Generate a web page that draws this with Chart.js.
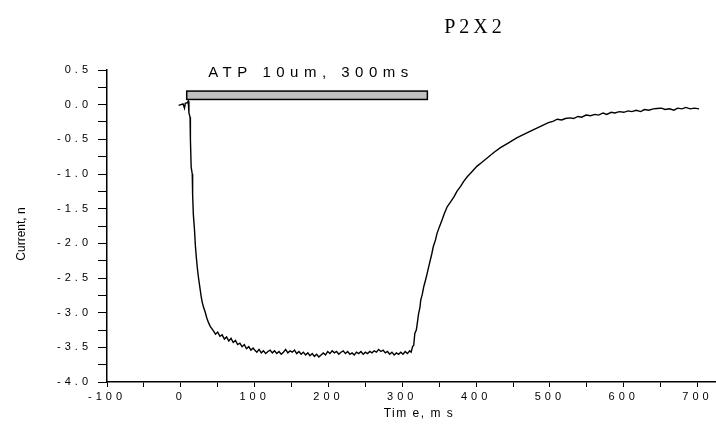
<!DOCTYPE html>
<html>
<head>
<meta charset="utf-8">
<script src="https://cdn.jsdelivr.net/npm/chart.js@4.4.0/dist/chart.umd.min.js"></script>
<style>
  html, body { margin: 0; padding: 0; background: #fff; }
  #wrap { width: 716px; height: 430px; }
</style>
</head>
<body>
<div id="wrap"><canvas id="chart" width="716" height="430"></canvas></div>
<script>
// Trace: time (ms) and current
const times = [
  -3, 0, 3, 5, 6, 9, 10, 11, 12.5, 13, 14, 15.5, 16, 17, 18.5, 19.7, 21, 22.4, 24, 26,
  27.5, 29, 31, 33, 35, 37.4, 40, 44, 47, 50, 53, 56, 59, 62, 65, 68, 71, 74, 77, 80,
  83, 86, 89, 92, 95, 98, 100, 103, 106, 109, 112, 115, 118, 121, 124, 127, 130, 133, 136, 139,
  142, 145, 148, 151, 154, 157, 160, 163, 166, 169, 172, 175, 178, 181, 184, 187, 190, 193, 196, 199,
  202, 205, 208, 211, 214, 217, 220, 223, 226, 229, 232, 235, 238, 241, 244, 247, 250, 253, 256, 259,
  262, 265, 268, 271, 274, 277, 280, 283, 286, 289, 292, 295, 298, 301, 304, 307, 310, 312, 314, 315.5,
  317, 319, 320, 322, 324, 325, 327, 329, 331, 333.6, 336, 338, 340, 342, 345, 347, 350, 354, 357, 361,
  365, 370, 374, 379, 383, 388, 394, 401, 408, 415, 424, 433, 444, 455, 466, 478, 488, 498, 504, 510,
  516, 521, 527, 532, 538, 543, 549, 555, 561, 566, 572, 577, 583, 588, 594, 600, 606, 611, 617, 623,
  628, 634, 640, 645, 651, 656, 662, 668, 673, 679, 684, 690, 696, 702
];
const current = [
  -0.01, 0.0, 0.01, -0.05, 0.02, 0.03, 0.05, -0.12, -0.18, -0.5, -0.9, -1.0, -1.3, -1.59, -1.8, -2.03, -2.2, -2.36, -2.5, -2.65,
  -2.76, -2.85, -2.93, -2.99, -3.07, -3.14, -3.2, -3.26, -3.31, -3.28, -3.34, -3.32, -3.38, -3.35, -3.41, -3.37, -3.43, -3.40, -3.46, -3.44,
  -3.49, -3.46, -3.52, -3.49, -3.54, -3.51, -3.54, -3.57, -3.53, -3.58, -3.55, -3.59, -3.56, -3.54, -3.58, -3.55, -3.59, -3.56, -3.60, -3.57,
  -3.53, -3.58, -3.55, -3.57, -3.54, -3.59, -3.56, -3.60, -3.57, -3.61, -3.58, -3.62, -3.59, -3.63, -3.60, -3.64, -3.61, -3.58, -3.61, -3.56,
  -3.59, -3.55, -3.58, -3.56, -3.60, -3.57, -3.55, -3.59, -3.56, -3.60, -3.58, -3.61, -3.57, -3.59, -3.56, -3.60, -3.57, -3.59, -3.56, -3.58,
  -3.55, -3.57, -3.53, -3.56, -3.54, -3.58, -3.56, -3.60, -3.57, -3.61, -3.58, -3.60, -3.57, -3.60, -3.56, -3.59, -3.55, -3.57, -3.49, -3.47,
  -3.30, -3.25, -3.18, -3.02, -2.92, -2.82, -2.74, -2.63, -2.55, -2.44, -2.33, -2.24, -2.15, -2.05, -1.95, -1.86, -1.77, -1.66, -1.57, -1.47,
  -1.41, -1.33, -1.25, -1.18, -1.11, -1.04, -0.97, -0.89, -0.83, -0.77, -0.69, -0.62, -0.55, -0.48, -0.42, -0.36, -0.31, -0.26, -0.24, -0.21,
  -0.22, -0.20, -0.19, -0.20, -0.17, -0.18, -0.15, -0.16, -0.14, -0.15, -0.12, -0.14, -0.11, -0.12, -0.10, -0.11, -0.09, -0.10, -0.08, -0.10,
  -0.07, -0.08, -0.06, -0.055, -0.05, -0.07, -0.06, -0.08, -0.05, -0.06, -0.04, -0.06, -0.05, -0.06
];

// ATP application bar (ms, current units)
const stimStart = 8;
const stimEnd = 334;
const stimLow = 0.075;
const stimHigh = 0.196;

// Axis ticks
const xMajor = [-100, 0, 100, 200, 300, 400, 500, 600, 700];
const xMinor = [-50, 50, 150, 250, 350, 450, 550, 650];
const yMajor = [0.5, 0.0, -0.5, -1.0, -1.5, -2.0, -2.5, -3.0, -3.5, -4.0];
const yMinor = [0.25, -0.25, -0.75, -1.25, -1.75, -2.25, -2.75, -3.25, -3.75];

const titleText = 'P2X2';
const stimLabel = 'ATP 10um, 300ms';
const xTitle = 'Tim e, m s';
const yTitle = 'Current, n';

const SANS = '"Liberation Sans", Arial, sans-serif';

const points = times.map((t, i) => ({ x: t, y: current[i] }));

// Draws the title, axis titles and the stimulus bar; sets tick letter spacing
const decor = {
  id: 'decor',
  beforeUpdate(chart) { chart.ctx.letterSpacing = '4px'; },
  beforeDraw(chart) { chart.ctx.letterSpacing = '4px'; },
  afterDraw(chart) {
    const ctx = chart.ctx;
    const xs = chart.scales.x, ys = chart.scales.y;
    ctx.save();

    // stimulus bar
    const x0 = xs.getPixelForValue(stimStart), x1 = xs.getPixelForValue(stimEnd);
    const y0 = ys.getPixelForValue(stimHigh), y1 = ys.getPixelForValue(stimLow);
    ctx.fillStyle = '#c0c0c0';
    ctx.strokeStyle = '#000';
    ctx.lineWidth = 1.5;
    ctx.fillRect(x0, y0, x1 - x0, y1 - y0);
    ctx.strokeRect(x0, y0, x1 - x0, y1 - y0);

    ctx.fillStyle = '#000';
    ctx.textAlign = 'center';

    // stimulus label
    ctx.letterSpacing = '5.5px';
    ctx.font = '15px ' + SANS;
    ctx.textBaseline = 'alphabetic';
    ctx.fillText(stimLabel, 311, 77);

    // title
    ctx.letterSpacing = '4px';
    ctx.font = '20px "Liberation Serif", "Times New Roman", serif';
    ctx.fillText(titleText, 475, 33);

    // x axis title
    ctx.letterSpacing = '1.5px';
    ctx.font = '12px ' + SANS;
    ctx.textBaseline = 'middle';
    ctx.fillText(xTitle, 419, 414);

    // y axis title
    ctx.letterSpacing = '0px';
    ctx.translate(22, 234);
    ctx.rotate(-Math.PI / 2);
    ctx.fillText(yTitle, 0, 0);

    ctx.restore();
  }
};

new Chart(document.getElementById('chart'), {
  type: 'line',
  data: {
    datasets: [{
      data: points,
      borderColor: '#000',
      borderWidth: 1.4,
      pointRadius: 0,
      tension: 0,
      fill: false
    }]
  },
  plugins: [decor],
  options: {
    responsive: false,
    animation: false,
    devicePixelRatio: 1,
    layout: { padding: { top: 70, left: 0, right: 0, bottom: 0 } },
    plugins: { legend: { display: false }, tooltip: { enabled: false } },
    scales: {
      x: {
        type: 'linear',
        min: -100,
        max: 725,
        afterBuildTicks: s => {
          s.ticks = xMajor.concat(xMinor).sort((a, b) => a - b).map(v => ({ value: v }));
        },
        afterFit: s => { s.height = 48; },
        ticks: {
          color: '#000',
          font: { family: SANS, size: 11 },
          padding: 3,
          maxRotation: 0,
          autoSkip: false,
          callback: v => xMajor.includes(v) ? String(v) : ''
        },
        grid: { drawOnChartArea: false, color: '#000', tickLength: 5 },
        border: { display: true, color: '#000', width: 1.5 }
      },
      y: {
        type: 'linear',
        min: -4,
        max: 0.5,
        afterBuildTicks: s => {
          s.ticks = yMajor.concat(yMinor).sort((a, b) => a - b).map(v => ({ value: v }));
        },
        afterFit: s => { s.width = 107; },
        ticks: {
          color: '#000',
          font: { family: SANS, size: 11 },
          padding: 6,
          autoSkip: false,
          callback: v => yMajor.includes(v) ? v.toFixed(1) : ''
        },
        grid: { drawOnChartArea: false, color: '#000', tickLength: 9 },
        border: { display: true, color: '#000', width: 1.5 }
      }
    }
  }
});
</script>
</body>
</html>
